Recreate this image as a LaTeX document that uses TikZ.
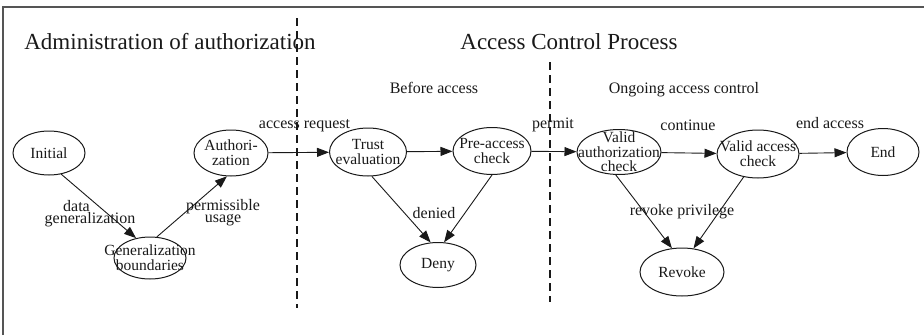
\documentclass[tikz,border=0pt]{standalone}
\usepackage{fontspec}
\setmainfont{Liberation Serif}
\usetikzlibrary{arrows.meta,shapes.geometric}
\definecolor{framegray}{RGB}{85,85,85}
\definecolor{ink}{RGB}{25,25,25}
\begin{document}
\begin{tikzpicture}[x=1pt,y=-1pt,
  state/.style={ellipse,draw=ink,line width=1pt,inner sep=0pt},
  lbl/.style={font=\fontsize{15.5}{15}\selectfont,align=center,inner sep=0pt,text=ink},
  edgetxt/.style={font=\fontsize{16}{12}\selectfont,align=center,inner sep=0pt,text=ink},
  heading/.style={font=\fontsize{23}{27}\selectfont,inner sep=0pt,anchor=base,text=ink},
  phase/.style={font=\fontsize{16}{19}\selectfont,inner sep=0pt,anchor=base,text=ink},
  edge/.style={draw=ink,line width=0.9pt,-{Triangle[length=12pt,width=9pt]}},
  divider/.style={draw=ink,line width=1.1pt,dash pattern=on 8pt off 5pt}]

\useasboundingbox (0,0) rectangle (924,335);

% frame (top and left edges only)
\draw[framegray,line width=2pt] (2.5,335) -- (2.5,6.5) -- (924,6.5);

% section dividers
\coordinate (d1top) at (297,18);
\coordinate (d1bot) at (297,308);
\coordinate (d2top) at (550,62);
\coordinate (d2bot) at (550,302);
\draw[divider] (d1top) -- (d1bot);
\draw[divider] (d2top) -- (d2bot);

% headings
\node[heading] (hadmin) at (170,49) {Administration of authorization};
\node[heading] (hacp) at (569,49) {Access Control Process};
\node[phase] (pbefore) at (434,93) {Before access};
\node[phase] (pongoing) at (684,93) {Ongoing access control};

% states
\node[state,minimum width=72pt,minimum height=44pt,label={[lbl]center:Initial}] (init) at (49,153) {};
\node[state,minimum width=74pt,minimum height=46pt,label={[lbl]center:Authori-\\zation}] (auth) at (231,153) {};
\node[state,minimum width=72pt,minimum height=42pt,label={[lbl]center:Generalization\\boundaries}] (gen) at (150,258) {};
\node[state,minimum width=77pt,minimum height=48pt,label={[lbl]center:Trust\\evaluation}] (trust) at (368,152) {};
\node[state,minimum width=78pt,minimum height=47pt,label={[lbl]center:Pre-access\\check}] (pre) at (492,151) {};
\node[state,minimum width=76pt,minimum height=45pt,label={[lbl]center:Deny}] (deny) at (438,265) {};
\node[state,minimum width=84pt,minimum height=45pt,label={[lbl,font=\fontsize{15.5}{14.5}\selectfont]center:Valid\\authorization\\check}] (vauth) at (619,152) {};
\node[state,minimum width=82pt,minimum height=48pt,label={[lbl]center:Valid access\\check}] (vacc) at (758,154) {};
\node[state,minimum width=72pt,minimum height=47pt,label={[lbl]center:End}] (end) at (883,152) {};
\node[state,minimum width=84pt,minimum height=48pt,label={[lbl]center:Revoke}] (revoke) at (682,272) {};

% transitions
\draw[edge] (init.-60) -- (gen.125);
\draw[edge] (gen.72) -- (auth.-100);
\draw[edge] (auth) -- (trust);
\draw[edge] (trust) -- (pre);
\draw[edge] (trust.-81) -- (deny.108);
\draw[edge] (pre.-90) -- (deny.75);
\draw[edge] (pre) -- (vauth);
\draw[edge] (vauth) -- (vacc);
\draw[edge] (vacc) -- (end);
\draw[edge] (vauth.-98) -- (revoke.113);
\draw[edge] (vacc.-122) -- (revoke.64);

% transition labels
\node[edgetxt,anchor=base] (ldata) at (76.5,211) {data};
\node[edgetxt,anchor=base] (ldatab) at (90,223) {generalization};
\node[edgetxt] (lperm) at (223,213) {permissible\\usage};
\node[edgetxt,anchor=base] (lreq) at (304.5,128) {access request};
\node[edgetxt,anchor=base] (lpermit) at (553,128) {permit};
\node[edgetxt,anchor=base] (lcont) at (688,130) {continue};
\node[edgetxt,anchor=base] (lend) at (830,128) {end access};
\node[edgetxt,anchor=base] (ldenied) at (434,218) {denied};
\node[edgetxt,anchor=base] (lrevoke) at (682,215) {revoke privilege};
\end{tikzpicture}
\end{document}
